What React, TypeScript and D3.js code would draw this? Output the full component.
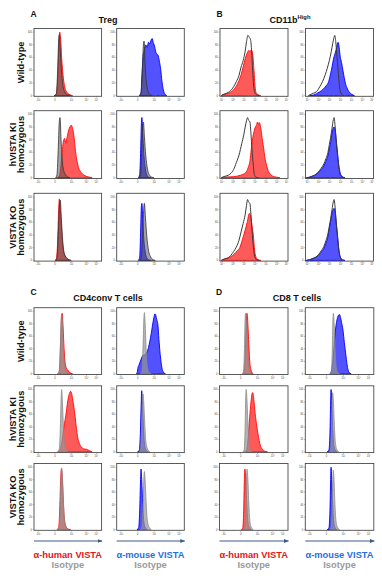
import React from "react";
import * as d3 from "d3";

type Pt = [number, number];

// ---------- labels ----------
const ROW_LABELS: string[][] = [["Wild-type"], ["hVISTA KI", "homozygous"], ["VISTA KO", "homozygous"]];
const PANEL_LETTERS = ["A", "B", "C", "D"];
const PANEL_TITLES = ["Treg", "CD11b", "CD4conv T cells", "CD8 T cells"];
const Y_TICKS = [0, 20, 40, 60, 80, 100];
const Y_TICK_LABELS = ["0", "20", "40", "60", "80", "100"];
const BIEX_TICKS = [6.4, 31, 55.7, 77.8, 92.6];
const BIEX_TICK_LABELS = ["-10³", "0", "10³", "10⁴", "10⁵"];
const LOG_TICKS = [3.4, 19.5, 35.6, 51.7, 68, 84, 98];
const LOG_TICK_LABELS = ["10⁻¹", "10⁰", "10¹", "10²", "10³", "10⁴", "10⁵"];
const X_LABELS = ["α-human VISTA", "α-mouse VISTA"];
const ISO_LABEL = "Isotype";

// ---------- data (x: % of axis, y: % of max) ; rows = WT, KI, KO ----------
const TREG_HUMAN: Pt[][] = [
  [[30,0],[33,2],[35,25],[36.5,70],[38,100],[39.5,88],[41,58],[43,32],[45,16],[48,6],[52,2],[57,0]],
  [[35,0],[38,4],[40,20],[42,45],[44,60],[45.5,62],[47,55],[49,64],[51,74],[53,80],[55,83],[57,78],[59,66],[61,46],[63,30],[66,16],[70,8],[74,4],[80,1.5],[86,0]],
  [[31,0],[33,2],[35,30],[36.5,80],[37.5,97],[39,80],[41,45],[43,20],[46,7],[50,2],[55,0]],
];
const TREG_HUMAN_ISO: Pt[][] = [
  [[30,0],[33,3],[35,40],[36.5,88],[37.5,96],[39,68],[41,34],[43,14],[46,5],[50,1],[54,0]],
  [[32,0],[34,5],[36,50],[37.5,90],[38.5,95],[40,60],[42,25],[45,8],[49,2],[53,0]],
  [[32,0],[34,4],[36,45],[37.8,88],[38.8,95],[40.5,65],[42.5,30],[45,10],[49,3],[54,0]],
];
const TREG_MOUSE: Pt[][] = [
  [[34,0],[36,4],[37.5,35],[39,62],[41,72],[43,80],[45,76],[47,84],[49,82],[51,88],[52.5,90],[54,84],[56,78],[57.5,70],[59,66],[61,64],[63,55],[65,42],[67,22],[69,9],[71,3],[74,0]],
  [[32,0],[34,5],[35.5,45],[36.5,85],[37.3,95],[38.5,70],[40,40],[42,18],[44,6],[47,1],[50,0]],
  [[32,0],[34,5],[35.5,50],[36.5,85],[37.3,90],[38.5,65],[40,35],[42,15],[44,5],[47,1],[50,0]],
];
const TREG_MOUSE_ISO: Pt[][] = [
  [[33,0],[36,5],[38,40],[39.5,80],[40.5,86],[42,50],[44,20],[47,5],[52,0]],
  [[33,0],[35.5,6],[37,45],[38.5,80],[39.5,88],[41,65],[43,35],[45.5,14],[48,5],[52,1],[55,0]],
  [[34,0],[36.5,6],[38.5,45],[40,82],[41,90],[42.5,68],[44.5,38],[47,16],[50,6],[54,1],[57,0]],
];

const CD11B_HUMAN: Pt[][] = [
  [[2,0],[5,2],[10,3],[15,5],[20,9],[24,15],[28,24],[31,33],[34,45],[37,58],[40,67],[42,71],[44,70],[46,72],[48,66],[50,40],[51.5,15],[53,5],[56,1.5],[60,0]],
  [[2,0],[5,1],[15,1.5],[25,2.5],[30,4],[35,6],[39,10],[42,18],[44,26],[46,45],[48,62],[50,73],[52,80],[54,84],[55,88],[57,84],[58,87],[60,78],[62,62],[64,48],[66,32],[68,22],[70,14],[73,7],[77,3],[83,1],[88,0]],
  [[2,0],[6,2],[12,4],[16,6],[21,10],[25,15],[29,20],[33,33],[37,48],[40,60],[43,74],[45,70],[47,55],[49,40],[51,15],[53,5],[56,1],[60,0]],
];
const CD11B_HUMAN_ISO: Pt[][] = [
  [[2,0],[6,2],[12,5],[16,8],[20,14],[24,22],[28,32],[31,45],[34,55],[37,70],[39,85],[41,95],[43,92],[45,88],[46.5,70],[48,40],[49.5,15],[51,5],[54,1],[58,0]],
  [[2,0],[6,2],[12,4],[16,7],[20,13],[24,24],[28,36],[32,54],[35,68],[37,80],[39,90],[40.5,95],[42,91],[44,88],[45.5,70],[47,45],[49,20],[50.5,5],[53,1],[57,0]],
  [[2,0],[6,2],[12,4],[16,8],[20,14],[24,21],[28,32],[31,45],[34,58],[37,72],[39,87],[40.5,96],[42,92],[44,90],[45.5,72],[47,48],[49,22],[51,6],[54,1],[58,0]],
];
const CD11B_MOUSE: Pt[][] = [
  [[6,0],[12,1],[16,3],[21,6],[26,10],[30,15],[34,22],[37,35],[39,45],[41,57],[43,65],[45,72],[46.5,80],[48,84],[49.5,76],[51,62],[53,52],[55,40],[57,28],[59,18],[61,12],[64,6],[68,2],[72,0]],
  [[1,0],[6,1],[11,3],[15,5],[19,9],[23,13],[27,19],[30,26],[33,35],[35,45],[37,56],[39,70],[40.5,78],[42,80],[43.5,76],[45,62],[47,40],[49,20],[51,8],[54,2],[58,0]],
  [[1,0],[6,1],[11,3],[15,5],[19,8],[23,13],[27,19],[30,27],[33,38],[35,50],[37,62],[39,74],[40.5,80],[42,82],[43.5,78],[45,62],[47,40],[49,18],[51,6],[54,1],[58,0]],
];
const CD11B_MOUSE_ISO: Pt[][] = [
  [[4,0],[8,2],[12,4],[16,6],[21,14],[25,22],[29,33],[32,43],[35,55],[38,70],[40,82],[42,92],[43,95],[44.5,85],[46,65],[48,40],[50,14],[52,4],[55,0]],
  [[2,0],[6,1],[11,3],[15,5],[19,9],[23,15],[27,22],[30,30],[33,40],[35,52],[37,64],[39,78],[41,92],[42,95],[43.5,82],[45,60],[47,36],[49,16],[51,5],[54,1],[57,0]],
  [[2,0],[6,1],[11,3],[15,5],[19,9],[23,15],[27,22],[30,31],[33,42],[35,54],[37,66],[39,80],[41,93],[42,96],[43.5,84],[45,62],[47,38],[49,16],[51,5],[54,1],[57,0]],
];

const CD4_HUMAN: Pt[][] = [
  [[35,0],[37,2],[38.5,20],[39.8,65],[41,95],[41.8,97],[43,75],[44.5,40],[46,18],[48,9],[50,6],[53,2],[57,0]],
  [[35,0],[37,1],[39,5],[41,14],[43,30],[45,45],[47,58],[48.5,70],[50,82],[52,92],[54,97],[55.5,95],[57,85],[59,72],[61,55],[62.5,40],[64.5,24],[67,14],[70,8],[73,5],[78,4],[82,2],[86,0]],
  [[34,0],[36.5,3],[38,30],[39.3,75],[40.5,97],[41.5,90],[43,55],[44.5,22],[46.5,7],[50,1],[54,0]],
];
const CD4_HUMAN_ISO: Pt[][] = [
  [[35,0],[37.5,5],[39,45],[40.3,90],[41,95],[42,80],[43.5,40],[45,15],[47.5,4],[51,0]],
  [[35,0],[37.5,5],[39,40],[40.3,90],[41,100],[42,80],[43.5,40],[45,15],[47.5,4],[51,0]],
  [[35,0],[37.5,5],[39,45],[40.3,90],[41,99],[42,85],[43.5,45],[45,18],[47.5,5],[51,0]],
];
const CD4_MOUSE: Pt[][] = [
  [[29,0],[30.5,3],[31.5,10],[33,14],[35,20],[37,26],[39,30],[41,30],[43,32],[45,35],[47,42],[49,52],[51,64],[53,78],[55,90],[56.5,96],[57.5,95],[59,88],[61,78],[62.5,55],[64,35],[65.5,20],[67,9],[69,3],[72,0]],
  [[31,0],[33.5,3],[35,30],[36.3,80],[37,98],[38,80],[39.5,40],[41,14],[43,4],[46,0]],
  [[30,0],[32.5,3],[34,30],[35.3,80],[36,97],[37,80],[38.5,40],[40,14],[42,4],[45,0]],
];
const CD4_MOUSE_ISO: Pt[][] = [
  [[35,0],[37.5,5],[39,45],[40.3,90],[41,98],[42,82],[43.5,40],[45,14],[47.5,3],[51,0]],
  [[33,0],[35.5,5],[37,45],[38.3,85],[39,93],[40,80],[41.5,45],[43,18],[45.5,5],[49,0]],
  [[35,0],[37.5,5],[39,40],[40.3,85],[41,93],[42,80],[43.5,45],[45,18],[47.5,5],[51,0]],
];

const CD8_HUMAN: Pt[][] = [
  [[34,0],[36,3],[37.5,30],[39,80],[40,97],[41,88],[42.5,55],[44,22],[46,6],[49,0]],
  [[38,0],[40,5],[42,25],[44,55],[46,80],[47.5,93],[48.5,95],[50,85],[52,62],[54,45],[56,30],[58,18],[60,9],[63,4],[66,1],[70,0]],
  [[32,0],[34,3],[35.3,30],[36.3,80],[37,97],[38,88],[39.5,50],[41,18],[43,5],[46,0]],
];
const CD8_HUMAN_ISO: Pt[][] = [
  [[33,0],[35,3],[36.3,35],[37.3,85],[38,97],[39,85],[40.5,45],[42,15],[44,4],[47,0]],
  [[34,0],[36,3],[37.3,35],[38.3,88],[39,100],[40,85],[41.5,45],[43,15],[45,4],[48,0]],
  [[35,0],[37,3],[38.5,35],[39.5,85],[40.2,97],[41.2,85],[42.7,45],[44.2,15],[46.2,4],[49,0]],
];
const CD8_MOUSE: Pt[][] = [
  [[36,0],[38,4],[39.5,12],[41,30],[42.5,52],[44,70],[45.5,82],[47,90],[48.5,94],[50,95],[51.5,90],[53,82],[55,70],[57,50],[59,32],[61,15],[62.5,6],[64,2],[67,0]],
  [[32,0],[34.5,3],[36,30],[37,80],[37.6,100],[38.5,80],[40,40],[41.5,12],[43.5,3],[46,0]],
  [[32,0],[34.5,3],[36,30],[37,80],[37.6,100],[38.5,80],[40,40],[41.5,12],[43.5,3],[46,0]],
];
const CD8_MOUSE_ISO: Pt[][] = [
  [[36,0],[38,4],[39.3,35],[40.3,85],[41,97],[42,82],[43.5,40],[45,12],[47,3],[50,0]],
  [[35,0],[37,4],[38.3,35],[39.3,85],[40,95],[41,82],[42.5,40],[44,14],[46,4],[49,0]],
  [[36,0],[38,4],[39.3,35],[40.3,85],[40.8,95],[41.8,82],[43.3,40],[44.8,14],[46.8,4],[50,0]],
];

// ---------- styles ----------
const FONT = "'Liberation Sans', Arial, sans-serif";
const RED_FILL = "#ff5a5a";
const RED_LINE = "#ff0a0a";
const BLUE_FILL = "#5252ff";
const BLUE_LINE = "#0000ff";
const HUMAN_TEXT = "#e3161c";
const MOUSE_TEXT = "#1f6fe0";
const ISO_TEXT = "#9a9a9a";
const ARROW = "#3d5a8a";

type IsoStyle = { fill: string; stroke: string; width: number };
const ISO_DARK: IsoStyle = { fill: "rgba(85,85,85,0.55)", stroke: "#333", width: 0.8 };
const ISO_OUTLINE: IsoStyle = { fill: "none", stroke: "#3a3a3a", width: 1 };
const ISO_LIGHT: IsoStyle = { fill: "rgba(150,150,150,0.7)", stroke: "#8a8a8a", width: 0.8 };

function Hist(props: {
  x0: number; y0: number; w: number; h: number;
  stain: Pt[]; iso: Pt[]; human: boolean; isoStyle: IsoStyle;
  ticks: number[]; tickLabels: string[];
}) {
  const { x0, y0, w, h, stain, iso, human, isoStyle, ticks, tickLabels } = props;
  const x = d3.scaleLinear().domain([0, 100]).range([x0, x0 + w]);
  const y = d3.scaleLinear().domain([0, 100]).range([y0 + h - 0.7, y0 + 3.7]);
  const area = d3.area<Pt>().x(d => x(d[0])).y0(y(0)).y1(d => y(d[1])).curve(d3.curveMonotoneX);
  const line = d3.line<Pt>().x(d => x(d[0])).y(d => y(d[1])).curve(d3.curveMonotoneX);
  const minorY = [10, 30, 50, 70, 90];
  const bottom = y0 + h;
  return (
    <g>
      <path d={area(stain) || ""} fill={human ? RED_FILL : BLUE_FILL} stroke={human ? RED_LINE : BLUE_LINE} strokeWidth={0.9} strokeLinejoin="round" />
      {isoStyle.fill === "none" ? (
        <path d={line(iso) || ""} fill="none" stroke={isoStyle.stroke} strokeWidth={isoStyle.width} />
      ) : (
        <path d={area(iso) || ""} fill={isoStyle.fill} stroke={isoStyle.stroke} strokeWidth={isoStyle.width} />
      )}
      <rect x={x0} y={y0} width={w} height={h} fill="none" stroke="#4a4a4a" strokeWidth={0.9} />
      {Y_TICKS.map((t, i) => (
        <g key={"y" + t}>
          <line x1={x0 - 1.3} x2={x0} y1={y(t)} y2={y(t)} stroke="#555" strokeWidth={0.4} />
          <text x={x0 - 2} y={y(t) + 0.9} fontSize={2.6} textAnchor="end" fill="#444" fontFamily={FONT}>{Y_TICK_LABELS[i]}</text>
        </g>
      ))}
      {minorY.map(t => (
        <line key={"ym" + t} x1={x0 - 0.7} x2={x0} y1={y(t)} y2={y(t)} stroke="#777" strokeWidth={0.3} />
      ))}
      {ticks.map((t, i) => (
        <g key={"x" + t}>
          <line x1={x(t)} x2={x(t)} y1={bottom} y2={bottom + 1.3} stroke="#555" strokeWidth={0.4} />
          <text x={x(t)} y={bottom + 4.3} fontSize={2.6} textAnchor="middle" fill="#444" fontFamily={FONT}>{tickLabels[i]}</text>
        </g>
      ))}
    </g>
  );
}

const PANELS = [
  { letter: 0, cols: [34, 116.7], w: 67.6, tops: [28.5, 110.7, 193.3], h: 67.8, hum: TREG_HUMAN, humIso: TREG_HUMAN_ISO, mou: TREG_MOUSE, mouIso: TREG_MOUSE_ISO, iso: ISO_DARK, log: false, letterY: 16.5, titleY: 22.5, titleX: 108, rowLabels: true },
  { letter: 1, cols: [220, 305.5], w: 68, tops: [28.5, 110.7, 193.3], h: 67.8, hum: CD11B_HUMAN, humIso: CD11B_HUMAN_ISO, mou: CD11B_MOUSE, mouIso: CD11B_MOUSE_ISO, iso: ISO_OUTLINE, log: true, letterY: 16.5, titleY: 22.5, titleX: 290, rowLabels: false },
  { letter: 2, cols: [34, 116.7], w: 67.6, tops: [307.7, 385.8, 463.5], h: 66.8, hum: CD4_HUMAN, humIso: CD4_HUMAN_ISO, mou: CD4_MOUSE, mouIso: CD4_MOUSE_ISO, iso: ISO_LIGHT, log: false, letterY: 295, titleY: 301, titleX: 108, rowLabels: true },
  { letter: 3, cols: [219.5, 305.3], w: 68.5, tops: [307.7, 385.8, 463.5], h: 66.8, hum: CD8_HUMAN, humIso: CD8_HUMAN_ISO, mou: CD8_MOUSE, mouIso: CD8_MOUSE_ISO, iso: ISO_LIGHT, log: false, letterY: 295, titleY: 301, titleX: 297, rowLabels: false },
];

export default function App() {
  return (
    <svg width={382} height={579} style={{ position: "absolute", left: 0, top: 0, background: "#fff" }} fontFamily={FONT}>
      <rect x={0} y={0} width={382} height={579} fill="#fff" />
      <defs>
        <marker id="arr" viewBox="0 0 10 10" refX={9} refY={5} markerWidth={5} markerHeight={5} orient="auto">
          <path d="M0,1 L10,5 L0,9 z" fill={ARROW} />
        </marker>
      </defs>
      {PANELS.map((p, pi) => {
        const ticks = p.log ? LOG_TICKS : BIEX_TICKS;
        const tickLabels = p.log ? LOG_TICK_LABELS : BIEX_TICK_LABELS;
        return (
          <g key={pi}>
            <text x={p.cols[0] - 3.5} y={p.letterY} fontSize={8.5} fontWeight="bold" fill="#111">{PANEL_LETTERS[p.letter]}</text>
            <text x={p.titleX} y={p.titleY} fontSize={9} fontWeight="bold" textAnchor="middle" fill="#111">
              {PANEL_TITLES[p.letter]}
              {p.log ? <tspan fontSize={5.8} dy={-3.6}>High</tspan> : null}
            </text>
            {p.tops.map((top, ri) => (
              <g key={ri}>
                <Hist x0={p.cols[0]} y0={top} w={p.w} h={p.h} stain={p.hum[ri]} iso={p.humIso[ri]} human={true} isoStyle={p.iso} ticks={ticks} tickLabels={tickLabels} />
                <Hist x0={p.cols[1]} y0={top} w={p.w} h={p.h} stain={p.mou[ri]} iso={p.mouIso[ri]} human={false} isoStyle={p.iso} ticks={ticks} tickLabels={tickLabels} />
                {p.rowLabels ? (
                  ROW_LABELS[ri].map((lab, li) => {
                    const n = ROW_LABELS[ri].length;
                    const cx = n === 1 ? 20.5 : 12.8 + li * 8;
                    const cy = top + p.h / 2;
                    return (
                      <text key={li} transform={`translate(${cx},${cy}) rotate(-90)`} fontSize={9.3} fontWeight="bold" textAnchor="middle" dominantBaseline="central" fill="#111">{lab}</text>
                    );
                  })
                ) : null}
              </g>
            ))}
          </g>
        );
      })}
      {[PANELS[2], PANELS[3]].map((p, i) => (
        <g key={"bottom" + i}>
          {p.cols.map((cx, ci) => (
            <g key={ci}>
              <line x1={cx} x2={cx + p.w + 0.5} y1={541} y2={541} stroke={ARROW} strokeWidth={1} markerEnd="url(#arr)" />
              <text x={cx + p.w / 2} y={557.5} fontSize={9.3} fontWeight="bold" textAnchor="middle" fill={ci === 0 ? HUMAN_TEXT : MOUSE_TEXT}>{X_LABELS[ci]}</text>
              <text x={cx + p.w / 2} y={568.3} fontSize={9.3} fontWeight="bold" textAnchor="middle" fill={ISO_TEXT}>{ISO_LABEL}</text>
            </g>
          ))}
        </g>
      ))}
    </svg>
  );
}
